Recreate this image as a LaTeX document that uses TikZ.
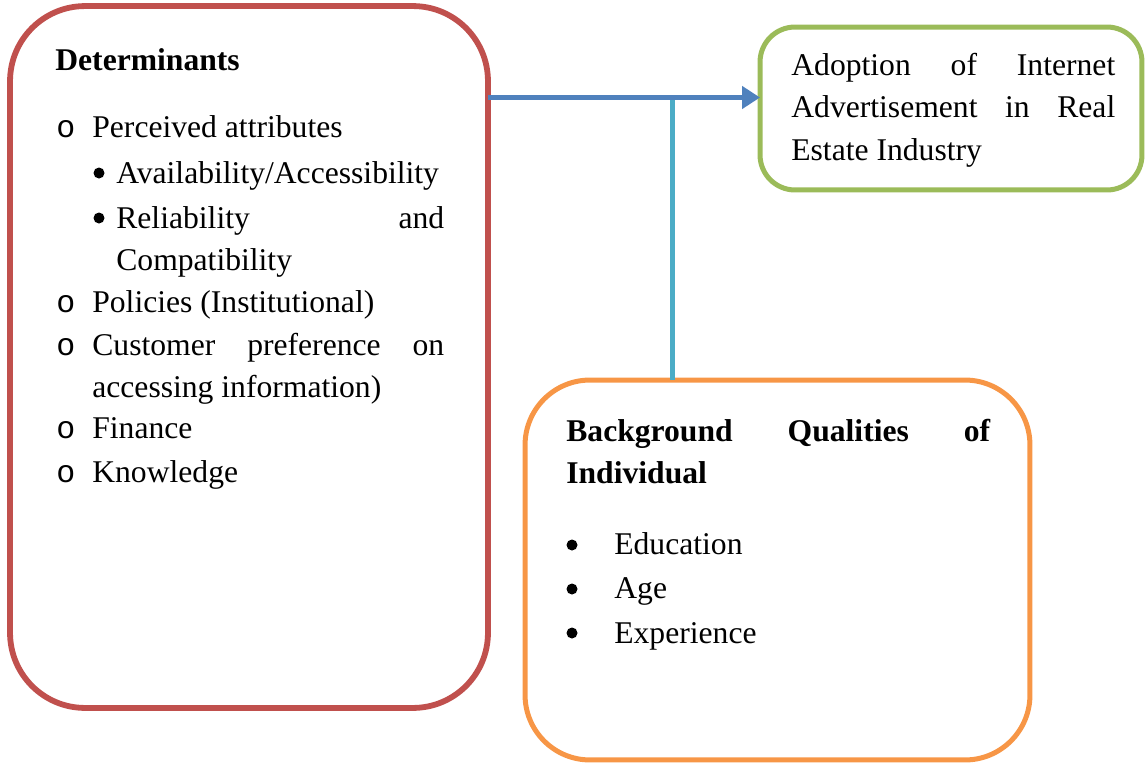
\documentclass[tikz,border=0pt]{standalone}
\usepackage{fontspec}
\setmainfont{Liberation Serif}
\newfontfamily\marcafont{Liberation Mono}
\usepackage{xcolor}
\usepackage{tikz}
\usetikzlibrary{arrows.meta}

\definecolor{rojo}{HTML}{C0504D}
\definecolor{verde}{HTML}{9BBB59}
\definecolor{naranja}{HTML}{F79646}
\definecolor{azul}{HTML}{4F81BD}
\definecolor{cian}{HTML}{4BACC6}

\begin{document}
\begin{tikzpicture}[x=0.02cm, y=-0.02cm,
  caja/.style={draw, rounded corners=#1, line width=2.85pt, outer sep=0pt, inner sep=0pt},
  texto/.style={anchor=base west, inner sep=0pt, font=\fontsize{18}{24}\selectfont},
  marca/.style={texto, font=\fontsize{18}{24}\marcafont},
  punto/.style={circle, fill=black, inner sep=0pt, minimum size=0.22cm}]

\useasboundingbox (0,0) rectangle (1146,764);

% Cajas
\node[caja=1.5cm, draw=rojo, line width=3.3pt, minimum width=9.56cm, minimum height=14.04cm] (det) at (249,357) {};
\node[caja=0.7cm, draw=verde, minimum width=7.64cm, minimum height=3.26cm] (adop) at (951,108.5) {};
\node[caja=1.3cm, draw=naranja, minimum width=10.1cm, minimum height=7.6cm] (fondo) at (777.5,570) {};

% Conectores
\coordinate (cruce) at (672,97.5);
\draw[cian, line width=2.85pt] (cruce) -- (fondo.north -| cruce);
\draw[azul, line width=2.85pt, -{Triangle[length=0.36cm, width=0.44cm]}] (det.east |- cruce) -- (adop.west |- cruce);

% Determinantes
\node[texto] (t0) at (55,70) {\textbf{Determinants}};
\node[marca] (o1) at (56,137) {o};
\node[texto] (l1) at (92,137) {Perceived attributes};
\node[punto] (p1) at (99,173) {};
\node[texto] (l2) at (116,183) {Availability/Accessibility};
\node[punto] (p2) at (99,218) {};
\node[texto] (l3) at (116,228) {\makebox[6.56cm][s]{Reliability and}};
\node[texto] (l4) at (116,270) {Compatibility};
\node[marca] (o2) at (56,312) {o};
\node[texto] (l5) at (92,312) {Policies (Institutional)};
\node[marca] (o3) at (56,355) {o};
\node[texto] (l6) at (92,355) {\makebox[7.04cm][s]{Customer preference on}};
\node[texto] (l7) at (92,397) {accessing information)};
\node[marca] (o4) at (56,438) {o};
\node[texto] (l8) at (92,438) {Finance};
\node[marca] (o5) at (56,482) {o};
\node[texto] (l9) at (92,482) {Knowledge};

% Adopcion
\node[texto] (a1) at (791,75) {\makebox[6.48cm][s]{Adoption of Internet}};
\node[texto] (a2) at (791,117) {\makebox[6.48cm][s]{Advertisement in Real}};
\node[texto] (a3) at (791,160) {Estate Industry};

% Cualidades del individuo
\node[texto] (b0) at (566,441) {\makebox[8.48cm][s]{\bfseries Background Qualities of}};
\node[texto] (b1) at (566,483) {\textbf{Individual}};
\node[punto] (q1) at (572,545) {};
\node[texto] (e1) at (614,554) {Education};
\node[punto] (q2) at (572,589) {};
\node[texto] (e2) at (614,598) {Age};
\node[punto] (q3) at (572,633) {};
\node[texto] (e3) at (614,643) {Experience};

\end{tikzpicture}
\end{document}
